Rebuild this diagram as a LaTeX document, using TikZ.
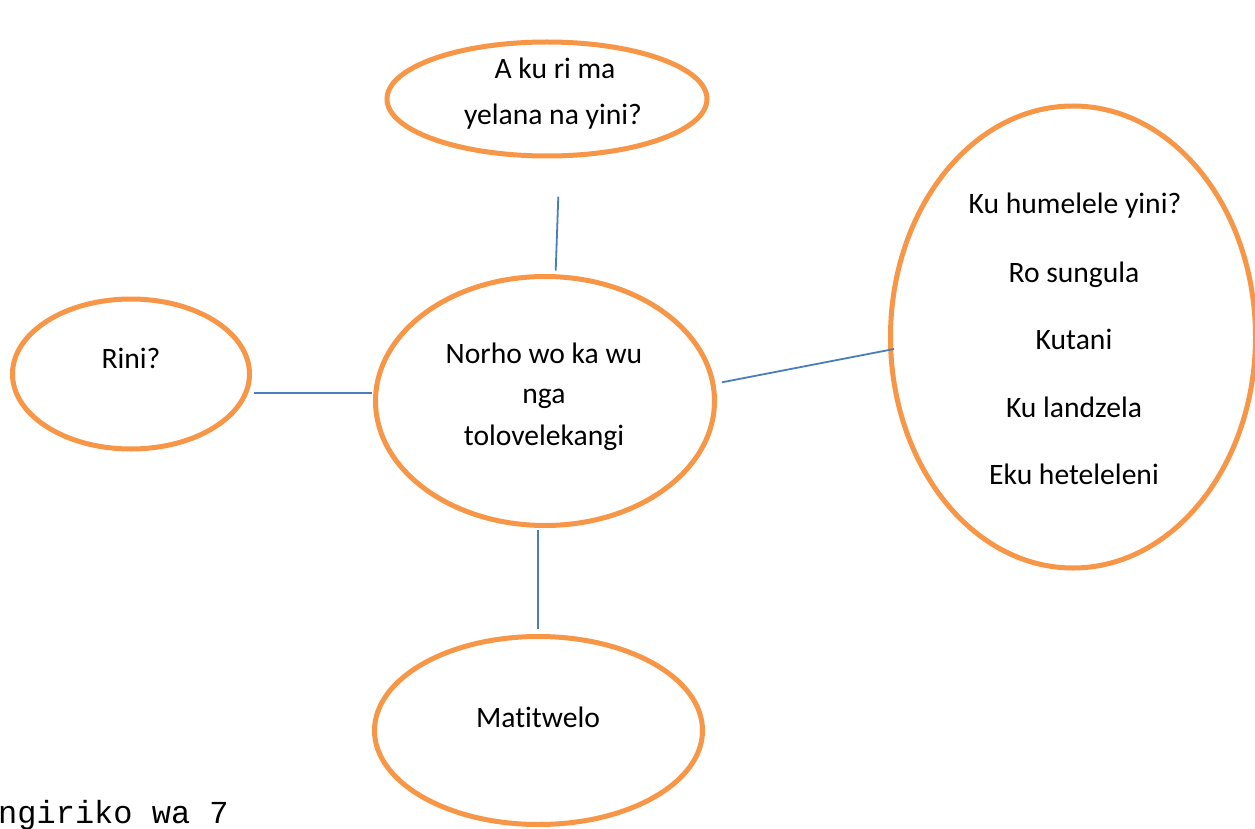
\documentclass[tikz,border=0pt]{standalone}
\usepackage{fontspec}
\setmainfont{Carlito}[Ligatures={NoCommon}]
\newfontfamily\monofont{Liberation Mono}
\usetikzlibrary{shapes.geometric}
\definecolor{ora}{HTML}{F79646}
\definecolor{blu}{HTML}{4A7EBB}
\begin{document}
\begin{tikzpicture}[x=1pt,y=-1pt,
  bubble/.style={ellipse, draw=ora, line width=5pt, inner sep=0pt},
  conn/.style={draw=blu, line width=1.8pt},
  txt/.style={anchor=base, inner sep=0pt, font=\fontsize{29.6}{35}\selectfont},
]
\clip (0,0) rectangle (1255,829);
\fill[white] (0,0) rectangle (1255,829);
% ellipses
\node[bubble, minimum width=320pt, minimum height=114pt] (top) at (547,99) {};
\node[bubble, minimum width=339pt, minimum height=249pt] (mid) at (545,401) {};
\node[bubble, minimum width=237pt, minimum height=150pt] (left) at (131,374) {};
\node[bubble, minimum width=365pt, minimum height=462pt] (right) at (1073,337) {};
\node[bubble, minimum width=328pt, minimum height=188pt] (bot) at (538.5,730.5) {};
% texts
\node[txt] (t1) at (555,79) {A ku ri ma};
\node[txt] (t2) at (553,124.5) {yelana na yini?};
\node[txt] (m1) at (544,363) {Norho wo ka wu};
\node[txt] (m2) at (544,403) {nga};
\node[txt] (m3) at (544,445) {tolovelekangi};
\node[txt] (l1) at (131,368) {Rini?};
\node[txt] (b1) at (538,727) {Matitwelo};
\node[txt] (r1) at (1075,214) {Ku humelele yini?};
\node[txt] (r2) at (1074,282) {Ro sungula};
\node[txt] (r3) at (1074,349) {Kutani};
\node[txt] (r4) at (1074,417) {Ku landzela};
\node[txt] (r5) at (1074,484) {Eku heteleleni};
\node[anchor=base west, inner sep=0pt, font=\monofont\fontsize{32}{36}\selectfont] (cap) at (-2,823.3) {ngiriko wa 7};
% connector end points
\coordinate (ta) at (558.3,196.7);
\coordinate (tb) at (555.7,270.7);
\coordinate (la) at (254.3,392.7);
\coordinate (lb) at (372.3,392.7);
\coordinate (ra) at (722,382.3);
\coordinate (rb) at (894,349);
\coordinate (ba) at (537.7,530);
\coordinate (bb) at (537.7,628.5);
\draw[conn] (ta) -- (tb);
\draw[conn] (la) -- (lb);
\draw[conn] (ra) -- (rb);
\draw[conn] (ba) -- (bb);
\end{tikzpicture}
\end{document}
